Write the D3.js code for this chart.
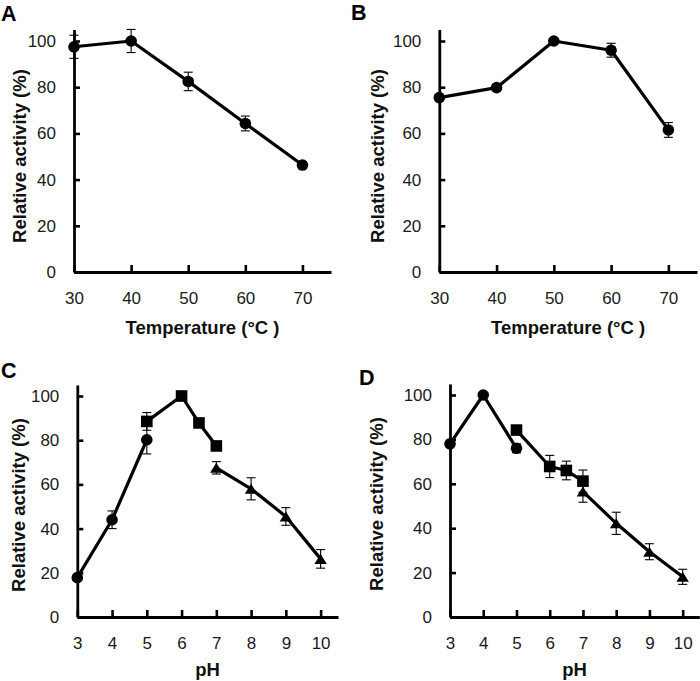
<!DOCTYPE html>
<html>
<head>
<meta charset="utf-8">
<script src="https://cdn.jsdelivr.net/npm/d3@7"></script>
<style>
  html, body { margin: 0; padding: 0; background: #fff; }
  svg { display: block; font-family: "Liberation Sans", Arial, Helvetica, sans-serif; }
</style>
</head>
<body>
<svg id="chart" width="700" height="681"></svg>
<script>
// ---------------- DATA ----------------
const temperatureTicks = [30, 40, 50, 60, 70];
const pHTicks = [3, 4, 5, 6, 7, 8, 9, 10];
const activityTicks = [0, 20, 40, 60, 80, 100];

// Panel A – temperature
const tempA = [30, 40, 50, 60, 70];
const activityA = [97.5, 100, 82.5, 64.3, 46.3];
const errorA = [5, 5, 4, 3.2, 1.5];

// Panel B – temperature
const tempB = [30, 40, 50, 60, 70];
const activityB = [75.5, 79.8, 100, 96, 61.5];
const errorB = [1, 1, 1, 3, 3.2];

// Panel C – pH (three buffers)
const pHC_circle = [3, 4, 5];
const activityC_circle = [17.8, 44, 80.2];
const errorC_circle = [1, 4, 6.4];
const pHC_square = [5, 6, 6.5, 7];
const activityC_square = [88.5, 100, 87.8, 77.4];
const errorC_square = [4, 2, 1, 1];
const pHC_triangle = [7, 8, 9, 10];
const activityC_triangle = [67.5, 58, 45.5, 26.3];
const errorC_triangle = [2.8, 5, 4, 4.2];

// Panel D – pH (three buffers)
const pHD_circle = [3, 4, 5];
const activityD_circle = [78, 100, 76];
const errorD_circle = [1, 1, 2];
const pHD_square = [5, 6, 6.5, 7];
const activityD_square = [84.2, 67.8, 66, 61.2];
const errorD_square = [2, 5, 4.2, 5];
const pHD_triangle = [7, 8, 9, 10];
const activityD_triangle = [56.5, 42.2, 29.4, 18.1];
const errorD_triangle = [4.8, 5, 3.6, 3.4];

// ---------------- DRAW ----------------
const svg = d3.select("#chart");

function zipSeries(xs, ys, es, shape) {
  return { shape, points: xs.map((x, i) => ({ x, y: ys[i], e: es[i] })) };
}

const panels = [
  {
    letter: "A", letterPos: [1, 20.5],
    xDomain: [30, 75], xRange: [74, 331], xTicks: temperatureTicks,
    yRange: [272, 41],
    xTitle: "Temperature (\u00B0C )", xTitleY: 334,
    yTitlePos: [26, 156],
    series: [zipSeries(tempA, activityA, errorA, "circle")]
  },
  {
    letter: "B", letterPos: [351, 20],
    xDomain: [30, 75], xRange: [439.3, 697], xTicks: temperatureTicks,
    yRange: [272, 41],
    xTitle: "Temperature (\u00B0C )", xTitleY: 334,
    yTitlePos: [384, 156],
    series: [zipSeries(tempB, activityB, errorB, "circle")]
  },
  {
    letter: "C", letterPos: [1, 378],
    xDomain: [3, 10.5], xRange: [77.3, 338], xTicks: pHTicks,
    yRange: [617, 396],
    xTitle: "pH", xTitleY: 676,
    yTitlePos: [25, 505],
    series: [
      zipSeries(pHC_circle, activityC_circle, errorC_circle, "circle"),
      zipSeries(pHC_square, activityC_square, errorC_square, "square"),
      zipSeries(pHC_triangle, activityC_triangle, errorC_triangle, "triangle")
    ]
  },
  {
    letter: "D", letterPos: [359, 385],
    xDomain: [3, 10.5], xRange: [450, 699.3], xTicks: pHTicks,
    yRange: [617, 395],
    xTitle: "pH", xTitleY: 676,
    yTitlePos: [383, 504],
    series: [
      zipSeries(pHD_circle, activityD_circle, errorD_circle, "circle"),
      zipSeries(pHD_square, activityD_square, errorD_square, "square"),
      zipSeries(pHD_triangle, activityD_triangle, errorD_triangle, "triangle")
    ]
  }
];

panels.forEach(p => {
  const g = svg.append("g");
  const x = d3.scaleLinear().domain(p.xDomain).range(p.xRange);
  // y axis line extends to 105 (value 100 maps to yRange[1])
  const per = (p.yRange[0] - p.yRange[1]) / 100;
  const y = d3.scaleLinear().domain([0, 105]).range([p.yRange[0], p.yRange[0] - 105 * per]);

  // axes
  const xAxis = d3.axisBottom(x).tickValues(p.xTicks).tickSizeInner(-7).tickSizeOuter(0).tickPadding(19.5);
  const yAxis = d3.axisLeft(y).tickValues(activityTicks).tickSizeInner(-6).tickSizeOuter(0).tickPadding(18);

  const gx = g.append("g").attr("transform", `translate(0,${p.yRange[0]})`).call(xAxis);
  const gy = g.append("g").attr("transform", `translate(${p.xRange[0]},0)`).call(yAxis);
  [gx, gy].forEach(a => {
    a.select(".domain").attr("stroke", "#000").attr("stroke-width", 2.8);
    a.selectAll(".tick line").attr("stroke", "#000").attr("stroke-width", 2.6);
    a.selectAll(".tick text").attr("fill", "#1a1a1a").style("font-size", "17px")
      .style("font-family", '"Liberation Sans", Arial, sans-serif');
  });

  // error bars
  const cap = 4.5;
  p.series.forEach(s => {
    const eb = g.append("g").attr("stroke", "#000").attr("stroke-width", 1.1);
    s.points.forEach(d => {
      const cx = x(d.x), yt = y(d.y + d.e), yb = y(d.y - d.e);
      eb.append("line").attr("x1", cx).attr("x2", cx).attr("y1", yt).attr("y2", yb);
      eb.append("line").attr("x1", cx - cap).attr("x2", cx + cap).attr("y1", yt).attr("y2", yt);
      eb.append("line").attr("x1", cx - cap).attr("x2", cx + cap).attr("y1", yb).attr("y2", yb);
    });
  });

  // lines
  const line = d3.line().x(d => x(d.x)).y(d => y(d.y));
  p.series.forEach(s => {
    g.append("path").datum(s.points).attr("d", line)
      .attr("fill", "none").attr("stroke", "#000").attr("stroke-width", 3.2)
      .attr("stroke-linejoin", "round");
  });

  // markers
  p.series.forEach(s => {
    s.points.forEach(d => {
      const cx = x(d.x), cy = y(d.y);
      if (s.shape === "circle") {
        g.append("circle").attr("cx", cx).attr("cy", cy).attr("r", 5.8).attr("fill", "#000");
      } else if (s.shape === "square") {
        g.append("rect").attr("x", cx - 5.8).attr("y", cy - 5.8).attr("width", 11.6).attr("height", 11.6).attr("fill", "#000");
      } else {
        const w = 12.5, h = 10;
        g.append("path").attr("d", `M${cx},${cy - h / 2}L${cx + w / 2},${cy + h / 2}L${cx - w / 2},${cy + h / 2}Z`).attr("fill", "#000");
      }
    });
  });

  // titles
  g.append("text").attr("x", (p.xRange[0] + p.xRange[1]) / 2).attr("y", p.xTitleY)
    .attr("text-anchor", "middle").attr("font-weight", "bold").attr("font-size", 18.5)
    .attr("fill", "#111").text(p.xTitle);
  g.append("text").attr("transform", `translate(${p.yTitlePos[0]},${p.yTitlePos[1]}) rotate(-90)`)
    .attr("text-anchor", "middle").attr("font-weight", "bold").attr("font-size", 18.5)
    .attr("fill", "#111").text("Relative activity (%)");
  g.append("text").attr("x", p.letterPos[0]).attr("y", p.letterPos[1])
    .attr("font-weight", "bold").attr("font-size", 21.5).attr("fill", "#000").text(p.letter);
});
</script>
</body>
</html>
